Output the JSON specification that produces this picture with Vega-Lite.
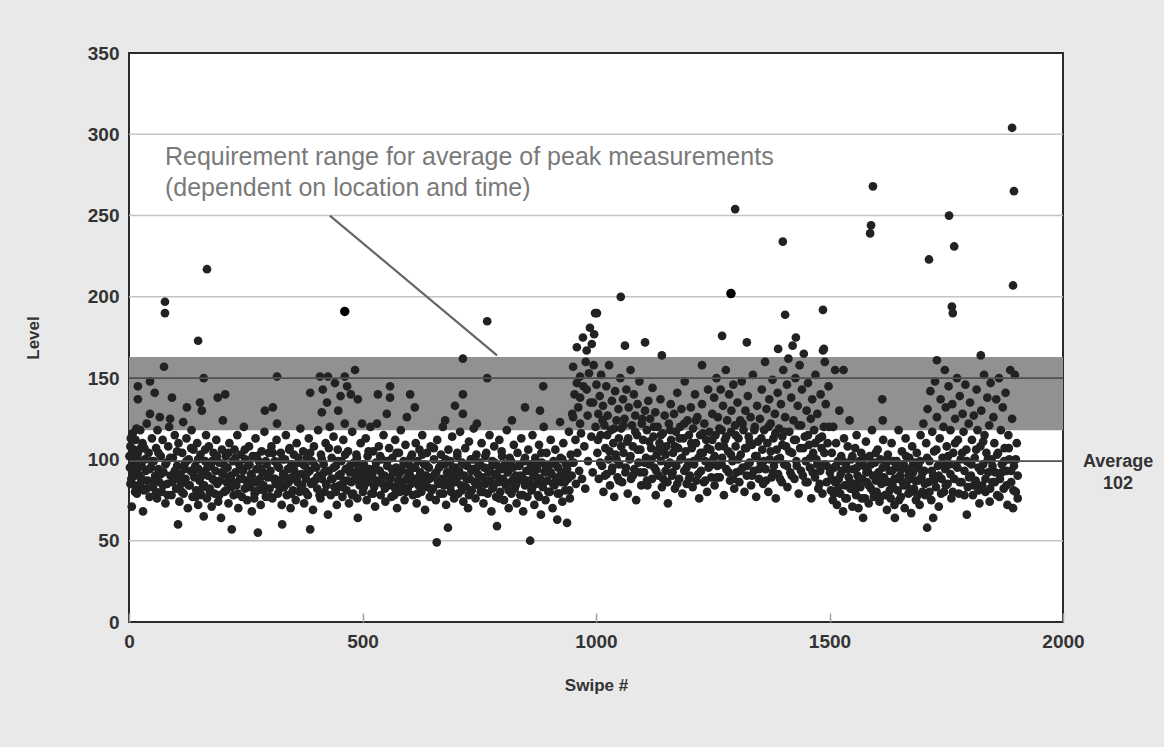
{
"$schema":"https://vega.github.io/schema/vega-lite/v6.json",
"width":934,"height":569,
"autosize":{"type":"none"},
"padding":{"left":129,"top":53,"right":101,"bottom":125},
"background":"#e9e9e9",
"config":{"view":{"stroke":"#2b2b2b","strokeWidth":2,"fill":"#ffffff"},"font":"Liberation Sans"},
"datasets":{
"pts":[
{"s":1,"v":102},{"s":2,"v":95},{"s":3,"v":108},{"s":4,"v":113},{"s":5,"v":88},{"s":6,"v":71},{"s":7,"v":97},{"s":8,"v":116},{"s":9,"v":101},{"s":10,"v":106},{"s":11,"v":92},{"s":12,"v":84},{"s":13,"v":90},{"s":14,"v":112},{"s":15,"v":98},{"s":16,"v":119},{"s":17,"v":79},{"s":18,"v":94},{"s":19,"v":145},{"s":19,"v":137},{"s":20,"v":105},{"s":21,"v":99},{"s":22,"v":90},{"s":23,"v":83},{"s":24,"v":118},{"s":25,"v":107},{"s":26,"v":86},{"s":27,"v":96},{"s":29,"v":110},{"s":30,"v":68},{"s":32,"v":81},{"s":34,"v":100},{"s":36,"v":93},{"s":38,"v":122},{"s":40,"v":87},{"s":42,"v":104},{"s":44,"v":77},{"s":45,"v":148},{"s":45,"v":128},{"s":47,"v":95},{"s":49,"v":113},
{"s":51,"v":83},{"s":53,"v":99},{"s":55,"v":141},{"s":56,"v":90},{"s":58,"v":107},{"s":60,"v":76},{"s":61,"v":118},{"s":63,"v":94},{"s":65,"v":86},{"s":66,"v":126},{"s":68,"v":102},{"s":70,"v":80},{"s":72,"v":112},{"s":74,"v":92},{"s":75,"v":157},{"s":77,"v":197},{"s":77,"v":190},{"s":78,"v":73},{"s":80,"v":98},{"s":82,"v":85},{"s":84,"v":108},{"s":86,"v":120},{"s":88,"v":125},{"s":89,"v":90},{"s":91,"v":78},{"s":92,"v":138},{"s":94,"v":101},{"s":96,"v":88},{"s":98,"v":115},
{"s":101,"v":82},{"s":103,"v":96},{"s":105,"v":60},{"s":106,"v":110},{"s":108,"v":74},{"s":110,"v":91},{"s":112,"v":85},{"s":114,"v":104},{"s":116,"v":123},{"s":117,"v":79},{"s":119,"v":97},{"s":121,"v":88},{"s":123,"v":113},{"s":124,"v":132},{"s":126,"v":70},{"s":128,"v":100},{"s":130,"v":84},{"s":132,"v":93},{"s":134,"v":118},{"s":136,"v":77},{"s":138,"v":106},{"s":140,"v":89},{"s":142,"v":96},{"s":144,"v":81},{"s":146,"v":110},{"s":148,"v":173},{"s":148,"v":72},{"s":149,"v":94},
{"s":151,"v":87},{"s":152,"v":135},{"s":153,"v":103},{"s":155,"v":78},{"s":156,"v":130},{"s":158,"v":92},{"s":160,"v":150},{"s":160,"v":65},{"s":161,"v":84},{"s":163,"v":99},{"s":165,"v":115},{"s":167,"v":217},{"s":167,"v":76},{"s":169,"v":90},{"s":171,"v":108},{"s":173,"v":82},{"s":175,"v":96},{"s":177,"v":71},{"s":179,"v":88},{"s":181,"v":104},{"s":183,"v":79},{"s":185,"v":93},{"s":187,"v":112},{"s":189,"v":85},{"s":190,"v":138},{"s":191,"v":74},{"s":193,"v":98},{"s":195,"v":87},{"s":197,"v":64},{"s":199,"v":106},
{"s":201,"v":124},{"s":202,"v":91},{"s":204,"v":80},{"s":206,"v":140},{"s":207,"v":102},{"s":209,"v":86},{"s":211,"v":95},{"s":213,"v":73},{"s":215,"v":110},{"s":217,"v":89},{"s":219,"v":83},{"s":220,"v":57},{"s":222,"v":99},{"s":224,"v":78},{"s":226,"v":106},{"s":228,"v":92},{"s":230,"v":84},{"s":232,"v":115},{"s":234,"v":70},{"s":236,"v":97},{"s":238,"v":88},{"s":240,"v":103},{"s":242,"v":77},{"s":244,"v":93},{"s":246,"v":120},{"s":248,"v":82},{"s":249,"v":100},
{"s":251,"v":87},{"s":253,"v":75},{"s":255,"v":96},{"s":257,"v":108},{"s":259,"v":83},{"s":261,"v":91},{"s":263,"v":68},{"s":265,"v":102},{"s":267,"v":86},{"s":269,"v":79},{"s":271,"v":113},{"s":273,"v":94},{"s":275,"v":81},{"s":276,"v":55},{"s":278,"v":99},{"s":280,"v":88},{"s":282,"v":72},{"s":284,"v":105},{"s":286,"v":92},{"s":288,"v":84},{"s":290,"v":117},{"s":291,"v":130},{"s":293,"v":77},{"s":295,"v":97},{"s":297,"v":89},{"s":299,"v":104},
{"s":301,"v":82},{"s":303,"v":93},{"s":305,"v":108},{"s":307,"v":76},{"s":308,"v":132},{"s":310,"v":88},{"s":312,"v":99},{"s":314,"v":85},{"s":316,"v":112},{"s":317,"v":151},{"s":317,"v":122},{"s":319,"v":79},{"s":321,"v":95},{"s":323,"v":87},{"s":325,"v":104},{"s":327,"v":72},{"s":328,"v":60},{"s":330,"v":91},{"s":332,"v":83},{"s":334,"v":100},{"s":336,"v":115},{"s":338,"v":78},{"s":340,"v":94},{"s":342,"v":86},{"s":344,"v":107},{"s":346,"v":70},{"s":348,"v":97},{"s":349,"v":89},
{"s":351,"v":81},{"s":353,"v":103},{"s":355,"v":92},{"s":357,"v":75},{"s":359,"v":110},{"s":361,"v":86},{"s":363,"v":98},{"s":365,"v":80},{"s":367,"v":119},{"s":369,"v":91},{"s":371,"v":84},{"s":373,"v":105},{"s":375,"v":73},{"s":377,"v":96},{"s":379,"v":88},{"s":381,"v":101},{"s":383,"v":78},{"s":385,"v":113},{"s":387,"v":93},{"s":388,"v":57},{"s":388,"v":141},{"s":390,"v":85},{"s":392,"v":99},{"s":394,"v":69},{"s":396,"v":108},{"s":398,"v":87},
{"s":401,"v":95},{"s":403,"v":82},{"s":405,"v":118},{"s":407,"v":90},{"s":409,"v":151},{"s":410,"v":76},{"s":411,"v":103},{"s":413,"v":129},{"s":413,"v":88},{"s":415,"v":143},{"s":417,"v":97},{"s":419,"v":80},{"s":421,"v":110},{"s":422,"v":85},{"s":424,"v":135},{"s":426,"v":151},{"s":426,"v":66},{"s":428,"v":93},{"s":430,"v":120},{"s":432,"v":78},{"s":434,"v":101},{"s":436,"v":88},{"s":438,"v":114},{"s":440,"v":83},{"s":441,"v":147},{"s":443,"v":96},{"s":445,"v":72},{"s":447,"v":106},{"s":448,"v":130},{"s":449,"v":90},
{"s":451,"v":84},{"s":453,"v":139},{"s":455,"v":99},{"s":457,"v":77},{"s":459,"v":112},{"s":460,"v":87},{"s":462,"v":151},{"s":462,"v":122},{"s":464,"v":94},{"s":466,"v":81},{"s":467,"v":145},{"s":469,"v":105},{"s":471,"v":73},{"s":473,"v":92},{"s":475,"v":140},{"s":476,"v":86},{"s":478,"v":117},{"s":480,"v":79},{"s":482,"v":98},{"s":484,"v":155},{"s":485,"v":89},{"s":487,"v":103},{"s":489,"v":76},{"s":490,"v":137},{"s":490,"v":64},{"s":492,"v":95},{"s":494,"v":84},{"s":496,"v":110},{"s":498,"v":91},{"s":499,"v":122},
{"s":501,"v":80},{"s":503,"v":97},{"s":505,"v":88},{"s":507,"v":113},{"s":509,"v":75},{"s":511,"v":102},{"s":513,"v":86},{"s":515,"v":94},{"s":517,"v":120},{"s":519,"v":79},{"s":521,"v":91},{"s":523,"v":105},{"s":525,"v":83},{"s":527,"v":71},{"s":529,"v":98},{"s":531,"v":122},{"s":531,"v":87},{"s":533,"v":140},{"s":535,"v":108},{"s":537,"v":93},{"s":539,"v":78},{"s":541,"v":100},{"s":543,"v":85},{"s":545,"v":115},{"s":547,"v":90},{"s":549,"v":74},
{"s":552,"v":128},{"s":553,"v":96},{"s":555,"v":84},{"s":557,"v":107},{"s":559,"v":145},{"s":559,"v":138},{"s":560,"v":89},{"s":562,"v":77},{"s":564,"v":101},{"s":566,"v":92},{"s":568,"v":83},{"s":570,"v":112},{"s":572,"v":95},{"s":574,"v":70},{"s":576,"v":87},{"s":578,"v":104},{"s":580,"v":80},{"s":582,"v":118},{"s":584,"v":93},{"s":586,"v":86},{"s":588,"v":99},{"s":590,"v":75},{"s":592,"v":109},{"s":594,"v":88},{"s":595,"v":126},{"s":597,"v":82},{"s":599,"v":97},
{"s":601,"v":91},{"s":602,"v":140},{"s":604,"v":85},{"s":606,"v":103},{"s":608,"v":78},{"s":610,"v":95},{"s":612,"v":132},{"s":612,"v":88},{"s":614,"v":110},{"s":616,"v":73},{"s":618,"v":99},{"s":620,"v":84},{"s":622,"v":106},{"s":624,"v":92},{"s":626,"v":80},{"s":628,"v":115},{"s":630,"v":87},{"s":632,"v":97},{"s":634,"v":69},{"s":636,"v":90},{"s":638,"v":104},{"s":640,"v":83},{"s":642,"v":95},{"s":644,"v":77},{"s":646,"v":108},{"s":648,"v":89},
{"s":651,"v":82},{"s":653,"v":100},{"s":655,"v":91},{"s":657,"v":75},{"s":659,"v":49},{"s":660,"v":112},{"s":662,"v":86},{"s":664,"v":95},{"s":666,"v":79},{"s":668,"v":103},{"s":670,"v":88},{"s":672,"v":120},{"s":674,"v":84},{"s":676,"v":97},{"s":677,"v":124},{"s":679,"v":72},{"s":681,"v":92},{"s":683,"v":58},{"s":684,"v":106},{"s":686,"v":85},{"s":688,"v":99},{"s":690,"v":80},{"s":692,"v":114},{"s":694,"v":90},{"s":696,"v":76},{"s":698,"v":133},{"s":699,"v":95},
{"s":701,"v":87},{"s":703,"v":102},{"s":705,"v":79},{"s":707,"v":93},{"s":709,"v":117},{"s":711,"v":84},{"s":713,"v":98},{"s":715,"v":162},{"s":715,"v":140},{"s":715,"v":128},{"s":716,"v":74},{"s":718,"v":90},{"s":720,"v":107},{"s":722,"v":83},{"s":724,"v":96},{"s":726,"v":70},{"s":728,"v":111},{"s":730,"v":88},{"s":732,"v":100},{"s":734,"v":81},{"s":736,"v":94},{"s":738,"v":119},{"s":740,"v":86},{"s":742,"v":76},{"s":744,"v":103},{"s":745,"v":122},{"s":747,"v":91},{"s":749,"v":84},
{"s":751,"v":98},{"s":753,"v":80},{"s":755,"v":110},{"s":757,"v":89},{"s":759,"v":73},{"s":761,"v":95},{"s":763,"v":85},{"s":765,"v":104},{"s":767,"v":185},{"s":767,"v":150},{"s":768,"v":79},{"s":770,"v":92},{"s":772,"v":115},{"s":774,"v":87},{"s":776,"v":68},{"s":778,"v":99},{"s":780,"v":83},{"s":782,"v":108},{"s":784,"v":91},{"s":786,"v":77},{"s":788,"v":59},{"s":789,"v":96},{"s":791,"v":86},{"s":793,"v":112},{"s":795,"v":80},{"s":797,"v":94},{"s":799,"v":102},
{"s":801,"v":88},{"s":803,"v":75},{"s":805,"v":97},{"s":807,"v":84},{"s":809,"v":118},{"s":811,"v":92},{"s":813,"v":70},{"s":815,"v":101},{"s":817,"v":86},{"s":819,"v":79},{"s":820,"v":124},{"s":822,"v":95},{"s":824,"v":109},{"s":826,"v":82},{"s":828,"v":90},{"s":830,"v":73},{"s":832,"v":104},{"s":834,"v":87},{"s":836,"v":96},{"s":838,"v":78},{"s":840,"v":113},{"s":842,"v":89},{"s":844,"v":68},{"s":846,"v":99},{"s":848,"v":132},{"s":848,"v":84},
{"s":851,"v":93},{"s":853,"v":77},{"s":855,"v":106},{"s":857,"v":86},{"s":859,"v":50},{"s":860,"v":97},{"s":862,"v":81},{"s":864,"v":115},{"s":866,"v":90},{"s":868,"v":72},{"s":870,"v":101},{"s":872,"v":85},{"s":874,"v":94},{"s":876,"v":78},{"s":878,"v":109},{"s":880,"v":130},{"s":880,"v":88},{"s":882,"v":66},{"s":884,"v":98},{"s":886,"v":83},{"s":887,"v":145},{"s":888,"v":120},{"s":890,"v":92},{"s":892,"v":75},{"s":894,"v":104},{"s":896,"v":87},{"s":898,"v":96},
{"s":901,"v":80},{"s":903,"v":112},{"s":905,"v":91},{"s":907,"v":70},{"s":909,"v":99},{"s":911,"v":84},{"s":913,"v":106},{"s":915,"v":88},{"s":917,"v":63},{"s":919,"v":95},{"s":921,"v":79},{"s":923,"v":123},{"s":924,"v":101},{"s":926,"v":86},{"s":928,"v":74},{"s":930,"v":110},{"s":932,"v":92},{"s":934,"v":81},{"s":936,"v":97},{"s":938,"v":61},{"s":940,"v":88},{"s":942,"v":117},{"s":944,"v":76},{"s":946,"v":103},{"s":948,"v":90},{"s":949,"v":128},
{"s":951,"v":157},{"s":951,"v":126},{"s":952,"v":98},{"s":954,"v":140},{"s":956,"v":112},{"s":957,"v":85},{"s":959,"v":169},{"s":959,"v":147},{"s":960,"v":104},{"s":962,"v":132},{"s":964,"v":93},{"s":966,"v":151},{"s":966,"v":138},{"s":966,"v":122},{"s":968,"v":116},{"s":970,"v":88},{"s":972,"v":175},{"s":973,"v":145},{"s":975,"v":108},{"s":977,"v":82},{"s":978,"v":160},{"s":980,"v":167},{"s":980,"v":143},{"s":982,"v":127},{"s":983,"v":99},{"s":985,"v":153},{"s":987,"v":181},{"s":988,"v":135},{"s":990,"v":114},{"s":991,"v":171},{"s":993,"v":92},{"s":994,"v":135},{"s":995,"v":158},{"s":996,"v":177},{"s":998,"v":190},{"s":999,"v":120},
{"s":1001,"v":146},{"s":1002,"v":190},{"s":1003,"v":104},{"s":1005,"v":128},{"s":1006,"v":88},{"s":1008,"v":139},{"s":1010,"v":115},{"s":1011,"v":152},{"s":1013,"v":96},{"s":1015,"v":133},{"s":1016,"v":80},{"s":1018,"v":121},{"s":1020,"v":107},{"s":1022,"v":145},{"s":1023,"v":91},{"s":1025,"v":127},{"s":1027,"v":100},{"s":1028,"v":158},{"s":1030,"v":84},{"s":1032,"v":118},{"s":1034,"v":136},{"s":1035,"v":95},{"s":1037,"v":110},{"s":1039,"v":77},{"s":1041,"v":142},{"s":1042,"v":103},{"s":1044,"v":124},{"s":1046,"v":89},{"s":1048,"v":131},{"s":1049,"v":113},
{"s":1050,"v":97},{"s":1053,"v":200},{"s":1052,"v":150},{"s":1054,"v":119},{"s":1056,"v":86},{"s":1058,"v":137},{"s":1059,"v":104},{"s":1061,"v":125},{"s":1062,"v":170},{"s":1063,"v":92},{"s":1065,"v":143},{"s":1067,"v":111},{"s":1068,"v":79},{"s":1070,"v":132},{"s":1072,"v":100},{"s":1074,"v":155},{"s":1075,"v":88},{"s":1077,"v":121},{"s":1079,"v":108},{"s":1081,"v":140},{"s":1082,"v":94},{"s":1084,"v":127},{"s":1086,"v":75},{"s":1088,"v":115},{"s":1089,"v":134},{"s":1091,"v":98},{"s":1093,"v":148},{"s":1095,"v":106},{"s":1097,"v":84},{"s":1098,"v":122},
{"s":1101,"v":112},{"s":1103,"v":92},{"s":1105,"v":172},{"s":1105,"v":130},{"s":1107,"v":101},{"s":1109,"v":118},{"s":1110,"v":84},{"s":1112,"v":136},{"s":1114,"v":97},{"s":1116,"v":125},{"s":1118,"v":107},{"s":1120,"v":88},{"s":1121,"v":144},{"s":1123,"v":114},{"s":1125,"v":95},{"s":1127,"v":129},{"s":1128,"v":78},{"s":1130,"v":103},{"s":1132,"v":120},{"s":1134,"v":90},{"s":1136,"v":110},{"s":1138,"v":137},{"s":1139,"v":99},{"s":1141,"v":164},{"s":1141,"v":83},{"s":1143,"v":116},{"s":1145,"v":105},{"s":1147,"v":127},{"s":1149,"v":93},
{"s":1151,"v":108},{"s":1153,"v":86},{"s":1154,"v":73},{"s":1156,"v":122},{"s":1158,"v":98},{"s":1160,"v":134},{"s":1161,"v":112},{"s":1163,"v":90},{"s":1165,"v":104},{"s":1167,"v":128},{"s":1169,"v":82},{"s":1171,"v":117},{"s":1172,"v":96},{"s":1174,"v":141},{"s":1176,"v":107},{"s":1178,"v":88},{"s":1180,"v":120},{"s":1181,"v":100},{"s":1183,"v":131},{"s":1185,"v":79},{"s":1187,"v":113},{"s":1189,"v":93},{"s":1190,"v":148},{"s":1192,"v":105},{"s":1194,"v":85},{"s":1196,"v":124},{"s":1198,"v":98},{"s":1199,"v":115},
{"s":1201,"v":90},{"s":1203,"v":132},{"s":1205,"v":107},{"s":1207,"v":83},{"s":1208,"v":119},{"s":1210,"v":97},{"s":1212,"v":140},{"s":1214,"v":110},{"s":1215,"v":87},{"s":1217,"v":126},{"s":1219,"v":101},{"s":1221,"v":76},{"s":1223,"v":115},{"s":1225,"v":93},{"s":1227,"v":158},{"s":1227,"v":134},{"s":1229,"v":104},{"s":1231,"v":86},{"s":1232,"v":122},{"s":1234,"v":99},{"s":1236,"v":112},{"s":1238,"v":80},{"s":1240,"v":143},{"s":1241,"v":95},{"s":1243,"v":117},{"s":1245,"v":106},{"s":1247,"v":89},{"s":1249,"v":128},
{"s":1251,"v":100},{"s":1253,"v":138},{"s":1254,"v":84},{"s":1256,"v":115},{"s":1258,"v":150},{"s":1260,"v":96},{"s":1261,"v":126},{"s":1263,"v":108},{"s":1265,"v":89},{"s":1267,"v":143},{"s":1269,"v":118},{"s":1270,"v":176},{"s":1270,"v":101},{"s":1272,"v":133},{"s":1274,"v":78},{"s":1276,"v":112},{"s":1278,"v":155},{"s":1279,"v":94},{"s":1281,"v":124},{"s":1283,"v":105},{"s":1285,"v":140},{"s":1287,"v":87},{"s":1289,"v":117},{"s":1290,"v":130},{"s":1292,"v":99},{"s":1294,"v":146},{"s":1296,"v":82},{"s":1298,"v":254},{"s":1298,"v":121},{"s":1299,"v":108},
{"s":1301,"v":92},{"s":1303,"v":135},{"s":1305,"v":113},{"s":1307,"v":86},{"s":1309,"v":124},{"s":1310,"v":103},{"s":1312,"v":148},{"s":1314,"v":95},{"s":1316,"v":118},{"s":1318,"v":80},{"s":1320,"v":130},{"s":1322,"v":107},{"s":1323,"v":172},{"s":1323,"v":90},{"s":1325,"v":139},{"s":1327,"v":114},{"s":1329,"v":98},{"s":1331,"v":126},{"s":1332,"v":84},{"s":1334,"v":109},{"s":1336,"v":152},{"s":1338,"v":93},{"s":1340,"v":120},{"s":1341,"v":102},{"s":1343,"v":77},{"s":1345,"v":133},{"s":1347,"v":111},{"s":1349,"v":88},
{"s":1351,"v":125},{"s":1353,"v":98},{"s":1355,"v":143},{"s":1356,"v":106},{"s":1358,"v":85},{"s":1360,"v":118},{"s":1362,"v":160},{"s":1363,"v":94},{"s":1365,"v":131},{"s":1367,"v":110},{"s":1369,"v":80},{"s":1371,"v":137},{"s":1372,"v":100},{"s":1374,"v":122},{"s":1376,"v":89},{"s":1378,"v":149},{"s":1380,"v":113},{"s":1381,"v":96},{"s":1383,"v":128},{"s":1385,"v":76},{"s":1387,"v":106},{"s":1389,"v":141},{"s":1390,"v":168},{"s":1390,"v":91},{"s":1392,"v":119},{"s":1394,"v":101},{"s":1396,"v":134},{"s":1398,"v":86},{"s":1399,"v":114},{"s":1400,"v":234},
{"s":1401,"v":155},{"s":1403,"v":97},{"s":1405,"v":189},{"s":1405,"v":126},{"s":1407,"v":108},{"s":1409,"v":146},{"s":1410,"v":83},{"s":1412,"v":162},{"s":1414,"v":117},{"s":1416,"v":92},{"s":1418,"v":138},{"s":1420,"v":104},{"s":1421,"v":170},{"s":1423,"v":124},{"s":1425,"v":88},{"s":1427,"v":150},{"s":1428,"v":175},{"s":1428,"v":112},{"s":1430,"v":96},{"s":1432,"v":133},{"s":1434,"v":79},{"s":1436,"v":158},{"s":1437,"v":107},{"s":1439,"v":121},{"s":1441,"v":143},{"s":1443,"v":90},{"s":1445,"v":165},{"s":1447,"v":114},{"s":1449,"v":99},
{"s":1451,"v":130},{"s":1453,"v":86},{"s":1454,"v":147},{"s":1456,"v":109},{"s":1458,"v":95},{"s":1460,"v":125},{"s":1461,"v":76},{"s":1463,"v":137},{"s":1465,"v":104},{"s":1467,"v":118},{"s":1469,"v":89},{"s":1470,"v":152},{"s":1472,"v":100},{"s":1474,"v":128},{"s":1476,"v":82},{"s":1478,"v":113},{"s":1480,"v":93},{"s":1481,"v":140},{"s":1483,"v":107},{"s":1485,"v":79},{"s":1486,"v":192},{"s":1486,"v":167},{"s":1488,"v":168},{"s":1488,"v":120},{"s":1490,"v":160},{"s":1490,"v":97},{"s":1492,"v":134},{"s":1494,"v":86},{"s":1496,"v":110},{"s":1498,"v":145},
{"s":1501,"v":92},{"s":1503,"v":81},{"s":1505,"v":104},{"s":1507,"v":75},{"s":1508,"v":120},{"s":1510,"v":95},{"s":1512,"v":155},{"s":1512,"v":86},{"s":1514,"v":110},{"s":1516,"v":72},{"s":1518,"v":99},{"s":1520,"v":88},{"s":1521,"v":130},{"s":1523,"v":79},{"s":1525,"v":102},{"s":1527,"v":93},{"s":1529,"v":68},{"s":1530,"v":155},{"s":1531,"v":113},{"s":1533,"v":84},{"s":1535,"v":97},{"s":1537,"v":76},{"s":1539,"v":108},{"s":1541,"v":89},{"s":1543,"v":124},{"s":1545,"v":82},{"s":1547,"v":100},{"s":1549,"v":71},
{"s":1551,"v":94},{"s":1553,"v":85},{"s":1555,"v":107},{"s":1557,"v":78},{"s":1558,"v":115},{"s":1560,"v":90},{"s":1562,"v":70},{"s":1564,"v":99},{"s":1566,"v":83},{"s":1568,"v":104},{"s":1570,"v":88},{"s":1572,"v":64},{"s":1574,"v":96},{"s":1576,"v":76},{"s":1578,"v":111},{"s":1580,"v":86},{"s":1582,"v":93},{"s":1584,"v":73},{"s":1586,"v":102},{"s":1587,"v":239},{"s":1589,"v":244},{"s":1589,"v":82},{"s":1591,"v":118},{"s":1593,"v":268},{"s":1593,"v":90},{"s":1595,"v":77},{"s":1597,"v":98},{"s":1599,"v":87},
{"s":1601,"v":80},{"s":1603,"v":106},{"s":1605,"v":92},{"s":1607,"v":74},{"s":1609,"v":100},{"s":1611,"v":85},{"s":1613,"v":137},{"s":1614,"v":124},{"s":1615,"v":112},{"s":1617,"v":89},{"s":1619,"v":78},{"s":1621,"v":97},{"s":1623,"v":69},{"s":1625,"v":103},{"s":1627,"v":86},{"s":1629,"v":93},{"s":1631,"v":76},{"s":1633,"v":110},{"s":1635,"v":84},{"s":1637,"v":99},{"s":1639,"v":72},{"s":1640,"v":64},{"s":1642,"v":95},{"s":1644,"v":88},{"s":1646,"v":81},{"s":1648,"v":118},
{"s":1651,"v":90},{"s":1653,"v":77},{"s":1655,"v":105},{"s":1657,"v":86},{"s":1659,"v":97},{"s":1661,"v":70},{"s":1663,"v":113},{"s":1665,"v":84},{"s":1667,"v":94},{"s":1669,"v":79},{"s":1671,"v":101},{"s":1673,"v":88},{"s":1675,"v":67},{"s":1677,"v":108},{"s":1679,"v":92},{"s":1681,"v":82},{"s":1683,"v":98},{"s":1685,"v":75},{"s":1687,"v":104},{"s":1689,"v":87},{"s":1691,"v":95},{"s":1693,"v":72},{"s":1695,"v":115},{"s":1697,"v":89},{"s":1699,"v":80},
{"s":1701,"v":122},{"s":1703,"v":93},{"s":1705,"v":78},{"s":1707,"v":110},{"s":1709,"v":58},{"s":1710,"v":131},{"s":1712,"v":86},{"s":1713,"v":223},{"s":1714,"v":99},{"s":1716,"v":142},{"s":1718,"v":75},{"s":1720,"v":117},{"s":1722,"v":64},{"s":1722,"v":90},{"s":1724,"v":105},{"s":1726,"v":148},{"s":1728,"v":83},{"s":1730,"v":161},{"s":1730,"v":126},{"s":1732,"v":96},{"s":1734,"v":71},{"s":1736,"v":113},{"s":1738,"v":137},{"s":1740,"v":88},{"s":1742,"v":101},{"s":1744,"v":120},{"s":1745,"v":80},{"s":1747,"v":155},{"s":1748,"v":94},{"s":1749,"v":132},
{"s":1751,"v":108},{"s":1753,"v":85},{"s":1755,"v":145},{"s":1756,"v":250},{"s":1757,"v":97},{"s":1759,"v":118},{"s":1761,"v":76},{"s":1762,"v":194},{"s":1764,"v":190},{"s":1763,"v":134},{"s":1765,"v":104},{"s":1767,"v":231},{"s":1767,"v":88},{"s":1769,"v":125},{"s":1771,"v":96},{"s":1773,"v":150},{"s":1775,"v":112},{"s":1777,"v":79},{"s":1779,"v":139},{"s":1781,"v":100},{"s":1783,"v":86},{"s":1785,"v":128},{"s":1787,"v":117},{"s":1789,"v":93},{"s":1791,"v":146},{"s":1793,"v":106},{"s":1794,"v":66},{"s":1796,"v":83},{"s":1798,"v":122},{"s":1799,"v":98},
{"s":1801,"v":135},{"s":1803,"v":90},{"s":1805,"v":112},{"s":1807,"v":78},{"s":1809,"v":127},{"s":1811,"v":101},{"s":1813,"v":87},{"s":1815,"v":143},{"s":1817,"v":118},{"s":1819,"v":95},{"s":1821,"v":73},{"s":1823,"v":108},{"s":1824,"v":164},{"s":1825,"v":130},{"s":1827,"v":84},{"s":1829,"v":97},{"s":1831,"v":152},{"s":1832,"v":115},{"s":1834,"v":80},{"s":1836,"v":104},{"s":1838,"v":138},{"s":1840,"v":92},{"s":1842,"v":121},{"s":1843,"v":74},{"s":1845,"v":147},{"s":1847,"v":100},{"s":1849,"v":86},
{"s":1851,"v":126},{"s":1853,"v":110},{"s":1855,"v":92},{"s":1857,"v":137},{"s":1859,"v":78},{"s":1861,"v":104},{"s":1863,"v":150},{"s":1865,"v":88},{"s":1867,"v":118},{"s":1869,"v":97},{"s":1871,"v":132},{"s":1873,"v":82},{"s":1875,"v":107},{"s":1877,"v":141},{"s":1879,"v":93},{"s":1881,"v":72},{"s":1883,"v":115},{"s":1885,"v":100},{"s":1887,"v":155},{"s":1889,"v":86},{"s":1891,"v":304},{"s":1891,"v":125},{"s":1893,"v":207},{"s":1893,"v":70},{"s":1895,"v":265},{"s":1895,"v":96},{"s":1897,"v":152},{"s":1899,"v":80},{"s":1901,"v":110},{"s":1903,"v":90},
{"s":3,"v":85},{"s":8,"v":92},{"s":13,"v":80},{"s":18,"v":103},{"s":23,"v":96},{"s":28,"v":88},{"s":33,"v":107},{"s":38,"v":82},{"s":43,"v":94},{"s":48,"v":99},{"s":53,"v":87},{"s":58,"v":80},{"s":63,"v":104},{"s":68,"v":91},{"s":73,"v":84},{"s":78,"v":97},{"s":83,"v":78},{"s":88,"v":101},{"s":93,"v":86},{"s":98,"v":93},{"s":103,"v":105},{"s":108,"v":88},{"s":113,"v":80},{"s":118,"v":94},{"s":123,"v":99},{"s":128,"v":84},{"s":133,"v":107},{"s":138,"v":91},{"s":143,"v":77},{"s":148,"v":100},{"s":153,"v":89},{"s":158,"v":83},{"s":163,"v":106},{"s":168,"v":95},{"s":173,"v":80},{"s":178,"v":99},{"s":183,"v":87},{"s":188,"v":102},{"s":193,"v":78},{"s":198,"v":92},{"s":203,"v":97},{"s":208,"v":81},{"s":213,"v":104},{"s":218,"v":90},{"s":223,"v":86},{"s":228,"v":101},{"s":233,"v":79},{"s":238,"v":95},{"s":243,"v":88},{"s":248,"v":106},{"s":253,"v":83},{"s":258,"v":97},{"s":263,"v":90},{"s":268,"v":76},{"s":273,"v":102},{"s":278,"v":86},{"s":283,"v":94},{"s":288,"v":81},{"s":293,"v":99},{"s":298,"v":91},{"s":303,"v":77},{"s":308,"v":104},{"s":313,"v":88},{"s":318,"v":96},{"s":323,"v":82},{"s":328,"v":100},{"s":333,"v":90},{"s":338,"v":85},{"s":343,"v":106},{"s":348,"v":79},{"s":353,"v":94},{"s":358,"v":88},{"s":363,"v":101},{"s":368,"v":83},{"s":373,"v":97},{"s":378,"v":80},{"s":383,"v":92},{"s":388,"v":104},{"s":393,"v":86},{"s":398,"v":96},{"s":403,"v":89},{"s":408,"v":78},{"s":413,"v":100},{"s":418,"v":92},{"s":423,"v":84},{"s":428,"v":107},{"s":433,"v":88},{"s":438,"v":95},{"s":443,"v":80},{"s":448,"v":99},{"s":453,"v":91},{"s":458,"v":83},{"s":463,"v":103},{"s":468,"v":87},{"s":473,"v":96},{"s":478,"v":78},{"s":483,"v":92},{"s":488,"v":101},{"s":493,"v":86},{"s":498,"v":97},{"s":503,"v":83},{"s":508,"v":93},{"s":513,"v":105},{"s":518,"v":89},{"s":523,"v":79},{"s":528,"v":95},{"s":533,"v":86},{"s":538,"v":102},{"s":543,"v":90},{"s":548,"v":82},{"s":553,"v":99},{"s":558,"v":87},{"s":563,"v":94},{"s":568,"v":78},{"s":573,"v":104},{"s":578,"v":91},{"s":583,"v":84},{"s":588,"v":97},{"s":593,"v":80},{"s":598,"v":92},{"s":603,"v":101},{"s":608,"v":86},{"s":613,"v":95},{"s":618,"v":79},{"s":623,"v":90},{"s":628,"v":103},{"s":633,"v":84},{"s":638,"v":96},{"s":643,"v":88},{"s":648,"v":81},{"s":653,"v":107},{"s":658,"v":92},{"s":663,"v":85},{"s":668,"v":97},{"s":673,"v":79},{"s":678,"v":100},{"s":683,"v":89},{"s":688,"v":83},{"s":693,"v":95},{"s":698,"v":86},{"s":703,"v":104},{"s":708,"v":90},{"s":713,"v":81},{"s":718,"v":97},{"s":723,"v":88},{"s":728,"v":78},{"s":733,"v":93},{"s":738,"v":100},{"s":743,"v":85},{"s":748,"v":96},{"s":753,"v":89},{"s":758,"v":80},{"s":763,"v":102},{"s":768,"v":87},{"s":773,"v":95},{"s":778,"v":82},{"s":783,"v":98},{"s":788,"v":90},{"s":793,"v":76},{"s":798,"v":105},{"s":803,"v":86},{"s":808,"v":94},{"s":813,"v":81},{"s":818,"v":99},{"s":823,"v":88},{"s":828,"v":84},{"s":833,"v":96},{"s":838,"v":90},{"s":843,"v":78},{"s":848,"v":101},{"s":853,"v":87},{"s":858,"v":93},{"s":863,"v":82},{"s":868,"v":98},{"s":873,"v":89},{"s":878,"v":77},{"s":883,"v":104},{"s":888,"v":86},{"s":893,"v":95},{"s":898,"v":80},{"s":903,"v":92},{"s":908,"v":85},{"s":913,"v":97},{"s":918,"v":79},{"s":923,"v":90},{"s":928,"v":100},{"s":933,"v":86},{"s":938,"v":94},{"s":943,"v":81},{"s":948,"v":98},
{"s":1004,"v":112},{"s":1009,"v":98},{"s":1014,"v":124},{"s":1019,"v":90},{"s":1024,"v":115},{"s":1029,"v":105},{"s":1034,"v":93},{"s":1039,"v":119},{"s":1044,"v":100},{"s":1049,"v":87},{"s":1054,"v":108},{"s":1059,"v":121},{"s":1064,"v":95},{"s":1069,"v":113},{"s":1074,"v":102},{"s":1079,"v":90},{"s":1084,"v":117},{"s":1089,"v":106},{"s":1094,"v":92},{"s":1099,"v":125},{"s":1104,"v":98},{"s":1109,"v":87},{"s":1114,"v":111},{"s":1119,"v":100},{"s":1124,"v":120},{"s":1129,"v":93},{"s":1134,"v":106},{"s":1139,"v":115},{"s":1144,"v":88},{"s":1149,"v":103},{"s":1154,"v":97},{"s":1159,"v":118},{"s":1164,"v":92},{"s":1169,"v":108},{"s":1174,"v":85},{"s":1179,"v":113},{"s":1184,"v":101},{"s":1189,"v":122},{"s":1194,"v":95},{"s":1199,"v":88},{"s":1204,"v":110},{"s":1209,"v":99},{"s":1214,"v":124},{"s":1219,"v":91},{"s":1224,"v":104},{"s":1229,"v":116},{"s":1234,"v":87},{"s":1239,"v":107},{"s":1244,"v":96},{"s":1249,"v":112},{"s":1254,"v":102},{"s":1259,"v":89},{"s":1264,"v":119},{"s":1269,"v":97},{"s":1274,"v":108},{"s":1279,"v":114},{"s":1284,"v":92},{"s":1289,"v":103},{"s":1294,"v":88},{"s":1299,"v":115},{"s":1304,"v":100},{"s":1309,"v":93},{"s":1314,"v":122},{"s":1319,"v":107},{"s":1324,"v":96},{"s":1329,"v":111},{"s":1334,"v":90},{"s":1339,"v":118},{"s":1344,"v":102},{"s":1349,"v":94},{"s":1354,"v":113},{"s":1359,"v":99},{"s":1364,"v":87},{"s":1369,"v":120},{"s":1374,"v":105},{"s":1379,"v":92},{"s":1384,"v":116},{"s":1389,"v":100},{"s":1394,"v":88},{"s":1399,"v":109},{"s":1404,"v":117},{"s":1409,"v":96},{"s":1414,"v":105},{"s":1419,"v":90},{"s":1424,"v":112},{"s":1429,"v":99},{"s":1434,"v":121},{"s":1439,"v":93},{"s":1444,"v":107},{"s":1449,"v":86},{"s":1454,"v":115},{"s":1459,"v":101},{"s":1464,"v":92},{"s":1469,"v":110},{"s":1474,"v":97},{"s":1479,"v":85},{"s":1484,"v":114},{"s":1489,"v":104},{"s":1494,"v":96},{"s":1499,"v":120},
{"s":1504,"v":88},{"s":1509,"v":79},{"s":1514,"v":96},{"s":1519,"v":83},{"s":1524,"v":91},{"s":1529,"v":99},{"s":1534,"v":76},{"s":1539,"v":94},{"s":1544,"v":86},{"s":1549,"v":102},{"s":1554,"v":81},{"s":1559,"v":95},{"s":1564,"v":88},{"s":1569,"v":76},{"s":1574,"v":101},{"s":1579,"v":92},{"s":1584,"v":84},{"s":1589,"v":97},{"s":1594,"v":80},{"s":1599,"v":104},{"s":1604,"v":89},{"s":1609,"v":77},{"s":1614,"v":95},{"s":1619,"v":86},{"s":1624,"v":100},{"s":1629,"v":81},{"s":1634,"v":93},{"s":1639,"v":88},{"s":1644,"v":99},{"s":1649,"v":75},{"s":1654,"v":94},{"s":1659,"v":84},{"s":1664,"v":102},{"s":1669,"v":90},{"s":1674,"v":80},{"s":1679,"v":97},{"s":1684,"v":87},{"s":1689,"v":78},{"s":1694,"v":99},{"s":1699,"v":92},{"s":1704,"v":85},{"s":1709,"v":101},{"s":1714,"v":80},{"s":1719,"v":93},{"s":1724,"v":87},{"s":1729,"v":106},{"s":1734,"v":90},{"s":1739,"v":79},{"s":1744,"v":97},{"s":1749,"v":84},{"s":1754,"v":102},{"s":1759,"v":91},{"s":1764,"v":80},{"s":1769,"v":110},{"s":1774,"v":95},{"s":1779,"v":86},{"s":1784,"v":104},{"s":1789,"v":78},{"s":1794,"v":99},{"s":1799,"v":89},{"s":1804,"v":97},{"s":1809,"v":84},{"s":1814,"v":106},{"s":1819,"v":81},{"s":1824,"v":93},{"s":1829,"v":111},{"s":1834,"v":88},{"s":1839,"v":100},{"s":1844,"v":82},{"s":1849,"v":96},{"s":1854,"v":86},{"s":1859,"v":103},{"s":1864,"v":77},{"s":1869,"v":92},{"s":1874,"v":99},{"s":1879,"v":84},{"s":1884,"v":107},{"s":1889,"v":93},{"s":1894,"v":81},{"s":1899,"v":100},{"s":1903,"v":76}
]},
"layer":[
{"data":{"values":[{"v":118,"v2":163}]},
 "mark":{"type":"rect","color":"#919191"},
 "encoding":{"y":{"field":"v","type":"quantitative","scale":{"domain":[0,350],"nice":false}},"y2":{"field":"v2"}}},
{"data":{"values":[{"v":50},{"v":200},{"v":250},{"v":300}]},
 "mark":{"type":"rule","color":"#c4c4c4","strokeWidth":1.5},
 "encoding":{"y":{"field":"v","type":"quantitative","scale":{"domain":[0,350],"nice":false}}}},
{"data":{"name":"pts"},
 "mark":{"type":"circle","color":"#222222","opacity":1,"size":76},
 "encoding":{
  "x":{"field":"s","type":"quantitative","scale":{"domain":[0,2000],"nice":false,"zero":false},
   "axis":{"title":"Swipe #","values":[0,500,1000,1500,2000],"format":"d","grid":false,"domain":false,"ticks":true,"tickSize":-9,"tickColor":"#a0a0a0","tickWidth":1.5,"labelFont":"Liberation Sans","labelFontSize":19,"labelFontWeight":"bold","labelColor":"#333333","labelPadding":19,"labelFlush":false,"titleFont":"Liberation Sans","titleFontSize":17,"titleFontWeight":"bold","titleColor":"#333333","titlePadding":26}},
  "y":{"field":"v","type":"quantitative","scale":{"domain":[0,350],"nice":false},
   "axis":{"title":"Level","values":[0,50,100,150,200,250,300,350],"grid":false,"domain":false,"ticks":false,"labelFont":"Liberation Sans","labelFontSize":19,"labelFontWeight":"bold","labelColor":"#333333","labelPadding":10,"titleFont":"Liberation Sans","titleFontSize":17,"titleFontWeight":"bold","titleColor":"#333333","titlePadding":45}}}},
{"data":{"values":[{"v":150},{"v":99}]},
 "mark":{"type":"rule","color":"#505050","strokeWidth":1.8},
 "encoding":{"y":{"field":"v","type":"quantitative","scale":{"domain":[0,350],"nice":false}}}},
{"data":{"values":[{"s":462,"v":191},{"s":1289,"v":202}]},
 "mark":{"type":"circle","color":"#000000","opacity":1,"size":90},
 "encoding":{"x":{"field":"s","type":"quantitative","scale":{"domain":[0,2000],"nice":false}},"y":{"field":"v","type":"quantitative","scale":{"domain":[0,350],"nice":false}}}},
{"data":{"values":[{"s":430,"v":250,"s2":788,"v2":164}]},
 "mark":{"type":"rule","color":"#666666","strokeWidth":2.2},
 "encoding":{"x":{"field":"s","type":"quantitative","scale":{"domain":[0,2000],"nice":false}},"y":{"field":"v","type":"quantitative","scale":{"domain":[0,350],"nice":false}},"x2":{"field":"s2"},"y2":{"field":"v2"}}},
{"data":{"values":[{"s":77,"v":286,"t":"Requirement range for average of peak measurements"},{"s":77,"v":267,"t":"(dependent on location and time)"}]},
 "mark":{"type":"text","align":"left","baseline":"middle","font":"Liberation Sans","fontSize":25,"color":"#7a7a7a"},
 "encoding":{"x":{"field":"s","type":"quantitative","scale":{"domain":[0,2000],"nice":false}},"y":{"field":"v","type":"quantitative","scale":{"domain":[0,350],"nice":false}},"text":{"field":"t"}}},
{"data":{"values":[{"s":2118,"v":98.4,"t":"Average"},{"s":2118,"v":84.9,"t":"102"}]},
 "mark":{"type":"text","align":"center","baseline":"middle","font":"Liberation Sans","fontSize":18,"fontWeight":"bold","color":"#333333"},
 "encoding":{"x":{"field":"s","type":"quantitative","scale":{"domain":[0,2000],"nice":false}},"y":{"field":"v","type":"quantitative","scale":{"domain":[0,350],"nice":false}},"text":{"field":"t"}}}
]
}
